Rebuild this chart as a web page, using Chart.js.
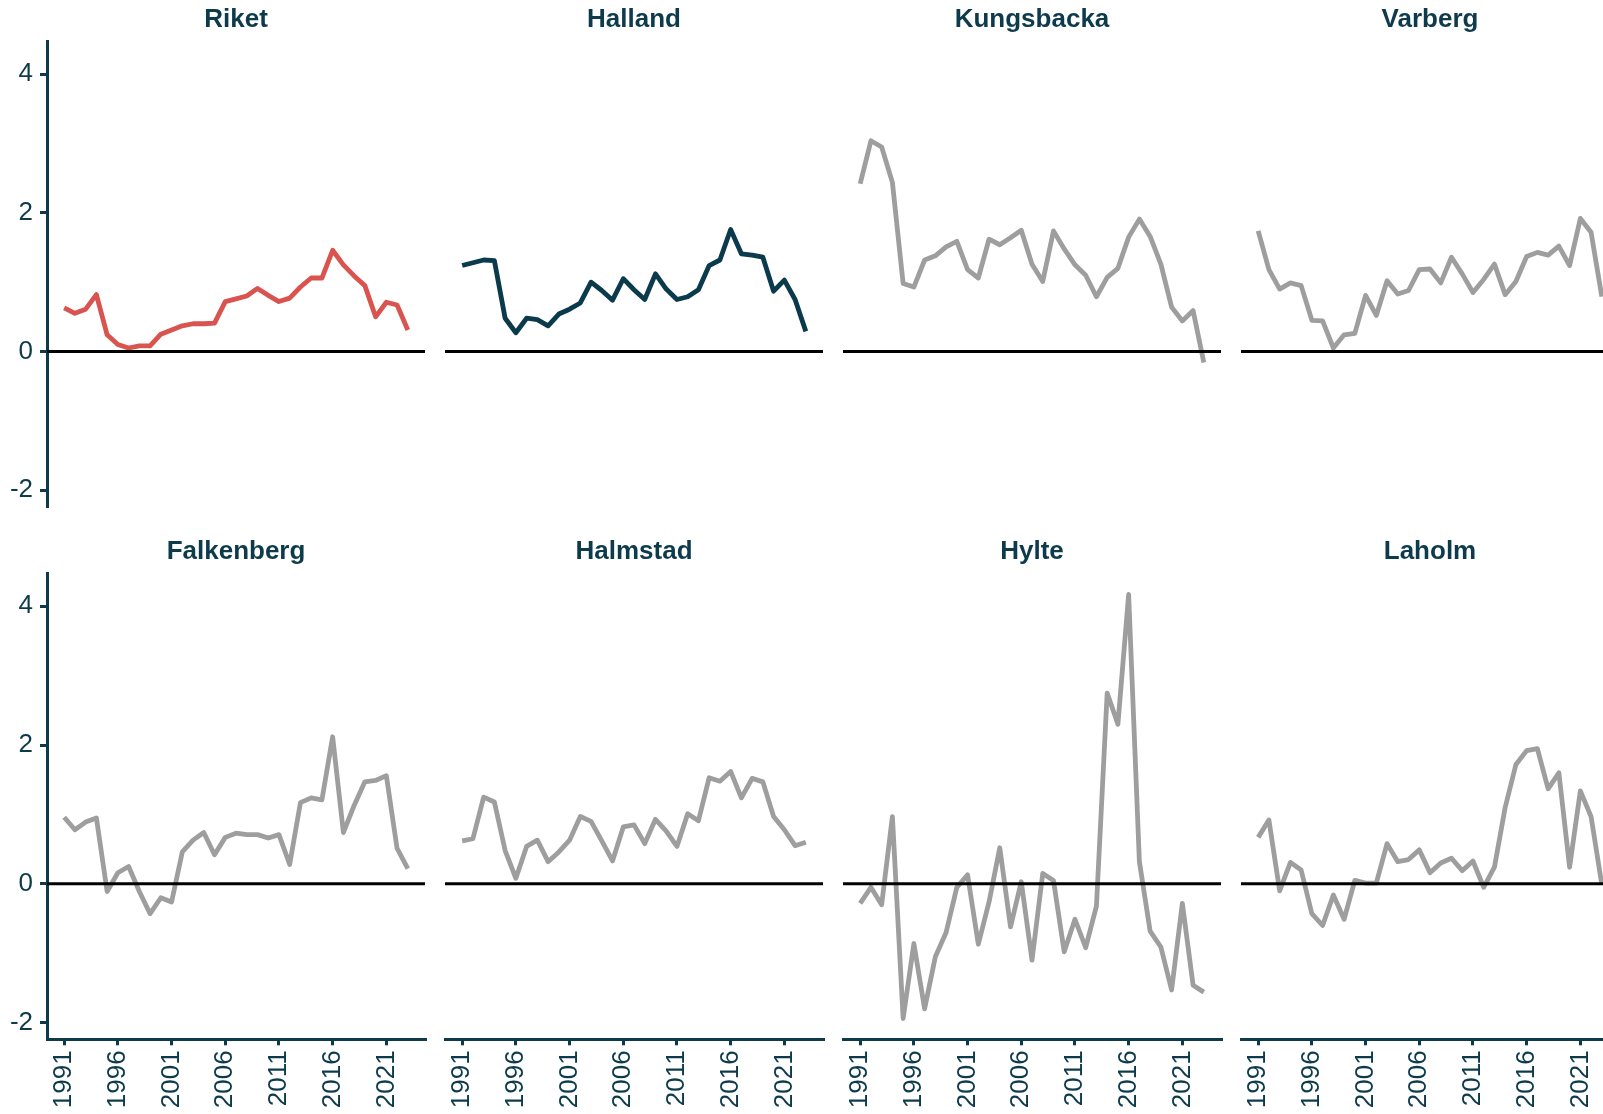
<!DOCTYPE html>
<html>
<head>
<meta charset="utf-8">
<script src="https://cdn.jsdelivr.net/npm/chart.js@4.4.0/dist/chart.umd.min.js"></script>
<style>
html, body { margin: 0; padding: 0; background: #fff; overflow: hidden; }
#wrap { position: relative; width: 1700px; height: 1130px; }
#wrap canvas { position: absolute; }
</style>
</head>
<body>
<div id="wrap"></div>
<script>
years = [1991, 1992, 1993, 1994, 1995, 1996, 1997, 1998, 1999, 2000, 2001, 2002, 2003, 2004, 2005, 2006, 2007,
    2008, 2009, 2010, 2011, 2012, 2013, 2014, 2015, 2016, 2017, 2018, 2019, 2020, 2021, 2022, 2023];
tickYears = [1991, 1996, 2001, 2006, 2011, 2016, 2021];
yTicks = [-2, 0, 2, 4];

riket = [0.63, 0.55, 0.61, 0.82, 0.24, 0.10, 0.05, 0.08, 0.08, 0.25, 0.31, 0.37, 0.40, 0.40, 0.41, 0.72, 0.76,
    0.80, 0.91, 0.81, 0.72, 0.77, 0.93, 1.06, 1.06, 1.46, 1.25, 1.09, 0.95, 0.50, 0.71, 0.67, 0.31];
halland = [1.24, 1.28, 1.32, 1.31, 0.48, 0.27, 0.48, 0.46, 0.37, 0.54, 0.61, 0.70, 1.00, 0.88, 0.74, 1.05, 0.89,
    0.75, 1.12, 0.90, 0.75, 0.79, 0.89, 1.24, 1.32, 1.76, 1.41, 1.39, 1.36, 0.87, 1.03, 0.75, 0.29];
kungsbacka = [2.42, 3.04, 2.95, 2.44, 0.98, 0.93, 1.32, 1.38, 1.51, 1.59, 1.18, 1.06, 1.62, 1.54, 1.64, 1.75, 1.26,
    1.01, 1.74, 1.48, 1.25, 1.10, 0.79, 1.07, 1.20, 1.65, 1.91, 1.66, 1.26, 0.64, 0.44, 0.59, -0.16];
varberg = [1.74, 1.18, 0.90, 0.99, 0.95, 0.45, 0.44, 0.05, 0.24, 0.26, 0.81, 0.52, 1.02, 0.83, 0.88, 1.18, 1.19,
    0.99, 1.36, 1.12, 0.85, 1.04, 1.26, 0.82, 1.01, 1.37, 1.43, 1.39, 1.52, 1.24, 1.92, 1.72, 0.79];
falkenberg = [0.96, 0.78, 0.89, 0.95, -0.11, 0.16, 0.25, -0.11, -0.43, -0.20, -0.26, 0.46, 0.63, 0.74, 0.42, 0.67, 0.73,
    0.71, 0.71, 0.66, 0.71, 0.28, 1.17, 1.24, 1.21, 2.12, 0.74, 1.13, 1.47, 1.49, 1.56, 0.51, 0.22];
halmstad = [0.62, 0.65, 1.25, 1.18, 0.48, 0.08, 0.54, 0.63, 0.32, 0.46, 0.63, 0.97, 0.90, 0.62, 0.33, 0.82, 0.85,
    0.58, 0.93, 0.76, 0.54, 1.01, 0.91, 1.53, 1.48, 1.62, 1.24, 1.52, 1.47, 0.97, 0.78, 0.55, 0.60];
hylte = [-0.28, -0.05, -0.30, 0.97, -1.94, -0.86, -1.80, -1.05, -0.70, -0.05, 0.13, -0.87, -0.26, 0.52, -0.62, 0.03, -1.10,
    0.15, 0.05, -0.98, -0.51, -0.92, -0.32, 2.75, 2.30, 4.17, 0.32, -0.68, -0.91, -1.53, -0.28, -1.46, -1.56];
laholm = [0.67, 0.92, -0.10, 0.31, 0.20, -0.43, -0.60, -0.16, -0.51, 0.05, 0.01, 0.01, 0.58, 0.32, 0.35, 0.49, 0.16,
    0.30, 0.37, 0.19, 0.33, -0.05, 0.24, 1.10, 1.72, 1.92, 1.95, 1.37, 1.60, 0.24, 1.34, 0.97, -0.01];

X_MIN = 1989.4;
X_MAX = 2024.6;
Y_MIN = -2.24;
Y_MAX = 4.47;

TEAL = '#0d3b4c';
GREY = '#9e9e9e';

panels = [
    { name: 'Riket', values: riket, color: '#d9534f' },
    { name: 'Halland', values: halland, color: '#0b3a4c' },
    { name: 'Kungsbacka', values: kungsbacka, color: GREY },
    { name: 'Varberg', values: varberg, color: GREY },
    { name: 'Falkenberg', values: falkenberg, color: GREY },
    { name: 'Halmstad', values: halmstad, color: GREY },
    { name: 'Hylte', values: hylte, color: GREY },
    { name: 'Laholm', values: laholm, color: GREY },
];

Chart.defaults.font.family = '"Liberation Sans", Arial, sans-serif';

panels.forEach((p, i) => makePanel(p, i % 4, Math.floor(i / 4)));

function makePanel(p, col, row) {
    w = 472;
    h = row == 0 ? 520 : 590;
    canvas = document.createElement('canvas');
    canvas.width = w;
    canvas.height = h;
    canvas.style.width = w + 'px';
    canvas.style.height = h + 'px';
    canvas.style.left = (col * 398) + 'px';
    canvas.style.top = (row == 0 ? 0 : 532) + 'px';
    document.getElementById('wrap').appendChild(canvas);

    showX = row == 1;
    showY = col == 0;

    new Chart(canvas, {
        type: 'line',
        data: {
            datasets: [{
                // zero reference line
                data: [{ x: X_MIN, y: 0 }, { x: X_MAX, y: 0 }],
                borderColor: '#000',
                borderWidth: 3,
                pointRadius: 0,
                order: 0
            }, {
                label: p.name,
                data: years.map((yr, k) => ({ x: yr, y: p.values[k] })),
                borderColor: p.color,
                borderWidth: 4.8,
                borderJoinStyle: 'round',
                pointRadius: 0,
                tension: 0,
                order: 1
            }]
        },
        options: {
            responsive: false,
            animation: false,
            devicePixelRatio: 1,
            layout: {
                padding: { left: showY ? 0 : 47, right: 47, top: 0, bottom: row == 0 ? 13.3 : 12.7 }
            },
            plugins: {
                legend: { display: false },
                tooltip: { enabled: false },
                title: {
                    display: true,
                    fullSize: false,
                    text: p.name,
                    color: TEAL,
                    font: { size: 26, weight: 'bold' },
                    padding: { top: 4.4, bottom: 6.1 }
                }
            },
            scales: {
                x: {
                    type: 'linear',
                    min: X_MIN,
                    max: X_MAX,
                    display: showX,
                    afterBuildTicks: (axis) => {
                        axis.ticks = tickYears.map(v => ({ value: v }));
                    },
                    afterFit: (axis) => {
                        if (showX) {
                            axis.height = 70;
                            axis.paddingLeft = 0;
                            axis.paddingRight = 0;
                        }
                    },
                    ticks: {
                        autoSkip: false,
                        minRotation: 90,
                        maxRotation: 90,
                        padding: 5,
                        color: TEAL,
                        font: { size: 26 },
                        callback: (v) => String(v)
                    },
                    grid: { drawOnChartArea: false, drawTicks: true, tickLength: 6, color: TEAL, lineWidth: 3 },
                    border: { display: true, color: TEAL, width: 3 }
                },
                y: {
                    min: Y_MIN,
                    max: Y_MAX,
                    display: showY,
                    afterBuildTicks: (axis) => {
                        axis.ticks = yTicks.map(v => ({ value: v }));
                    },
                    afterFit: (axis) => {
                        if (showY) {
                            axis.width = 47;
                            axis.paddingTop = 0;
                            axis.paddingBottom = 0;
                        }
                    },
                    ticks: {
                        padding: 7,
                        color: TEAL,
                        font: { size: 26 },
                        callback: (v) => String(v)
                    },
                    grid: { drawOnChartArea: false, drawTicks: true, tickLength: 7, color: TEAL, lineWidth: 3 },
                    border: { display: true, color: TEAL, width: 3 }
                }
            }
        }
    });
}
</script>
</body>
</html>
